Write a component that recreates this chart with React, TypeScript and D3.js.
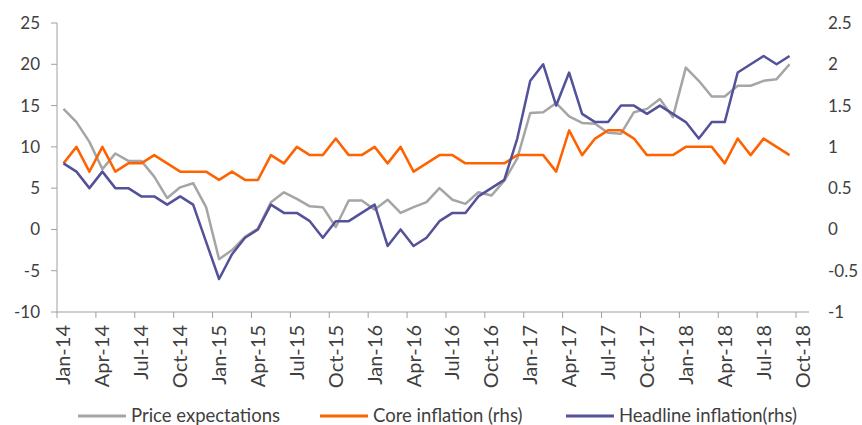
import React, { useEffect, useRef } from 'react';
import * as d3 from 'd3';

const monthNames = ['Jan', 'Feb', 'Mar', 'Apr', 'May', 'Jun', 'Jul', 'Aug', 'Sep', 'Oct', 'Nov', 'Dec'];
const years = ['14', '15', '16', '17', '18'];
// Jan-14 .. Oct-18 on the axis
const categories: string[] = years.flatMap(y => monthNames.map(m => `${m}-${y}`)).slice(0, 58);

const tickLabels = [
  'Jan-14', 'Apr-14', 'Jul-14', 'Oct-14', 'Jan-15', 'Apr-15', 'Jul-15', 'Oct-15', 'Jan-16', 'Apr-16',
  'Jul-16', 'Oct-16', 'Jan-17', 'Apr-17', 'Jul-17', 'Oct-17', 'Jan-18', 'Apr-18', 'Jul-18', 'Oct-18',
];

const leftTicks = [-10, -5, 0, 5, 10, 15, 20, 25];
const rightTicks = [-1, -0.5, 0, 0.5, 1, 1.5, 2, 2.5];

// Jan-14 .. Sep-18
const priceExpectations = [
  14.6, 13.0, 10.6, 7.3, 9.2, 8.3, 8.3, 6.4, 3.8, 5.1, 5.6, 2.7,
  -3.6, -2.5, -0.9, 0.1, 3.3, 4.5, 3.7, 2.8, 2.7, 0.3, 3.5, 3.5,
  2.4, 3.6, 2.0, 2.7, 3.3, 5.0, 3.6, 3.1, 4.5, 4.1, 5.9, 8.6,
  14.1, 14.2, 15.3, 13.7, 12.9, 12.8, 11.7, 11.6, 14.2, 14.6, 15.8, 13.6,
  19.6, 18.0, 16.1, 16.1, 17.4, 17.4, 18.0, 18.2, 20.0,
];

const coreInflation = [
  0.8, 1.0, 0.7, 1.0, 0.7, 0.8, 0.8, 0.9, 0.8, 0.7, 0.7, 0.7,
  0.6, 0.7, 0.6, 0.6, 0.9, 0.8, 1.0, 0.9, 0.9, 1.1, 0.9, 0.9,
  1.0, 0.8, 1.0, 0.7, 0.8, 0.9, 0.9, 0.8, 0.8, 0.8, 0.8, 0.9,
  0.9, 0.9, 0.7, 1.2, 0.9, 1.1, 1.2, 1.2, 1.1, 0.9, 0.9, 0.9,
  1.0, 1.0, 1.0, 0.8, 1.1, 0.9, 1.1, 1.0, 0.9,
];

const headlineInflation = [
  0.8, 0.7, 0.5, 0.7, 0.5, 0.5, 0.4, 0.4, 0.3, 0.4, 0.3, -0.15,
  -0.6, -0.3, -0.1, 0.0, 0.3, 0.2, 0.2, 0.1, -0.1, 0.1, 0.1, 0.2,
  0.3, -0.2, 0.0, -0.2, -0.1, 0.1, 0.2, 0.2, 0.4, 0.5, 0.6, 1.1,
  1.8, 2.0, 1.5, 1.9, 1.4, 1.3, 1.3, 1.5, 1.5, 1.4, 1.5, 1.4,
  1.3, 1.1, 1.3, 1.3, 1.9, 2.0, 2.1, 2.0, 2.1,
];

const seriesNames = ['Price expectations', 'Core inflation (rhs)', 'Headline inflation(rhs)'];
const colors = ['#a5a5a5', '#ff6200', '#525199'];

const W = 862;
const H = 425;
const FONT = 'Lato, "Open Sans", sans-serif';

const App = () => {
  const ref = useRef<SVGSVGElement>(null);

  useEffect(() => {
    const svg = d3.select(ref.current);
    svg.selectAll('*').remove();

    const left = 57, right = 809, top = 23, bottom = 312;

    const x = d3.scaleBand<string>().domain(categories).range([left, right]);
    const yL = d3.scaleLinear().domain([-10, 25]).range([bottom, top]);
    const yR = d3.scaleLinear().domain([-1, 2.5]).range([bottom, top]);
    const cx = (i: number) => (x(categories[i]) as number) + x.bandwidth() / 2;

    // left axis
    svg.append('line')
      .attr('x1', left).attr('x2', left).attr('y1', top).attr('y2', bottom)
      .attr('stroke', '#a0a0a0');
    svg.selectAll('.ltick').data(leftTicks).enter().append('line')
      .attr('x1', left - 6).attr('x2', left)
      .attr('y1', d => yL(d)).attr('y2', d => yL(d))
      .attr('stroke', '#a0a0a0');
    svg.selectAll('.llab').data(leftTicks).enter().append('text')
      .attr('x', 40).attr('y', d => yL(d)).attr('dy', '0.35em')
      .attr('text-anchor', 'end')
      .style('font', `17px ${FONT}`).attr('fill', '#404040')
      .text(d => d);

    // right axis labels
    svg.selectAll('.rlab').data(rightTicks).enter().append('text')
      .attr('x', 828).attr('y', d => yR(d)).attr('dy', '0.35em')
      .style('font', `17px ${FONT}`).attr('fill', '#404040')
      .text(d => d);

    // x axis
    svg.append('line')
      .attr('x1', left).attr('x2', right).attr('y1', bottom).attr('y2', bottom)
      .attr('stroke', '#a0a0a0');
    const tickIdx = d3.range(0, categories.length, 3);
    svg.selectAll('.xtick').data(tickIdx).enter().append('line')
      .attr('x1', i => x(categories[i]) as number).attr('x2', i => x(categories[i]) as number)
      .attr('y1', bottom).attr('y2', bottom + 6)
      .attr('stroke', '#a0a0a0');
    svg.selectAll('.xlab').data(tickLabels).enter().append('text')
      .attr('transform', d => `translate(${cx(categories.indexOf(d))},325) rotate(-90)`)
      .attr('dy', '0.35em')
      .attr('text-anchor', 'end')
      .style('font', `20px ${FONT}`).attr('fill', '#404040')
      .text(d => d);

    // lines
    const lineL = d3.line<number>().x((_, i) => cx(i)).y(d => yL(d));
    const lineR = d3.line<number>().x((_, i) => cx(i)).y(d => yR(d));
    svg.append('path').attr('d', lineL(priceExpectations))
      .attr('fill', 'none').attr('stroke', colors[0]).attr('stroke-width', 2.5).attr('stroke-linejoin', 'round');
    svg.append('path').attr('d', lineR(coreInflation))
      .attr('fill', 'none').attr('stroke', colors[1]).attr('stroke-width', 2.5).attr('stroke-linejoin', 'round');
    svg.append('path').attr('d', lineR(headlineInflation))
      .attr('fill', 'none').attr('stroke', colors[2]).attr('stroke-width', 2.5).attr('stroke-linejoin', 'round');

    // legend
    const legendX = [78, 320, 566];
    const g = svg.selectAll('.leg').data(seriesNames).enter().append('g')
      .attr('transform', (_, i) => `translate(${legendX[i]},416)`);
    g.append('line').attr('x1', 0).attr('x2', 48).attr('y1', 0).attr('y2', 0)
      .attr('stroke', (_, i) => colors[i]).attr('stroke-width', 3);
    g.append('text').attr('x', 53).attr('dy', '0.35em')
      .style('font', `18.5px ${FONT}`).attr('fill', '#404040')
      .text(d => d);
  }, []);

  return (
    <div style={{ position: 'absolute', left: 0, top: 0 }}>
      <svg ref={ref} width={W} height={H} style={{ display: 'block', background: '#fff' }} />
    </div>
  );
};

export default App;
